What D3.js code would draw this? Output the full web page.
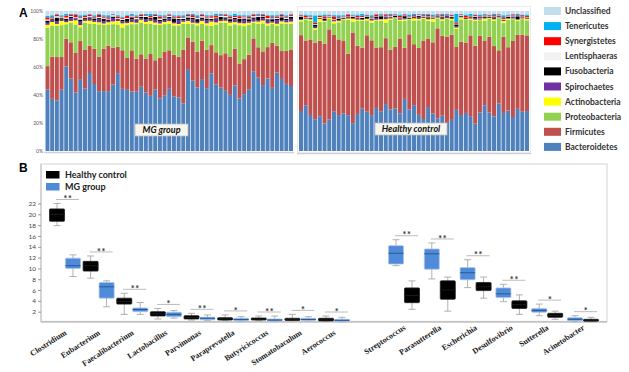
<!DOCTYPE html>
<html>
<head>
<meta charset="utf-8">
<script src="https://cdn.jsdelivr.net/npm/d3@7"></script>
<style>
  body { margin: 0; background: #fff; }
  svg { display: block; font-family: Lato, "Open Sans", sans-serif; }
</style>
</head>
<body>
<svg id="chart" width="629" height="372"></svg>
<script>
// ---------------- Panel A: phylum relative abundance per sample (%) ----------------
var phyla = ["Bacteroidetes", "Firmicutes", "Proteobacteria", "Actinobacteria", "Spirochaetes",
             "Fusobacteria", "Lentisphaeras", "Synergistetes", "Tenericutes", "Unclassified"];
var phylumColors = ["#4f81bd", "#c0504d", "#92d050", "#ffff00", "#7030a0",
                    "#000000", "#f2f2f2", "#ff0000", "#00b0f0", "#c3dfee"];
var pctTicks = [0, 0.2, 0.4, 0.6, 0.8, 1];

// MG group (53 samples)
var mgBacteroidetes = [43.6,37,36,43.6,60.7,52,42,51.4,44.8,56, 48,43,43,43,48,56,44.8,44,43,42.5,
                       46,42,39,44,38,40,45,39,38,33.6, 58,51,45.5,52,45.5,55.5,48,45.5,43,40,
                       47,38,41,43.6,57,53,47,52,45.5,56.7, 52,48,46.7];
var mgFirmicutes = [16.6,29.9,30.9,23.3,19.8,26.1,28.5,27.2,27.8,19.7, 25.3,24.9,30.3,32.7,26.5,19,27.8,22.9,29.6,23.7,
                    23.3,24.2,29.6,21,29.4,31,27.9,29.6,28.9,38.1, 23.2,28.3,25.5,27.8,27.8,20.2,23,23.1,26.8,27.4,
                    26.3,25.3,25.2,24.3,23.5,22,24,22.5,32.6,19.5, 20.1,23.7,25.9];
var mgProteobacteria = [27.3,22.1,22.1,22.6,10.5,13.9,20.5,9.9,19.4,15.8, 17.7,23.1,17.2,15.3,17,16,16.4,23.6,18.9,24.8,
                        22.7,24.8,21.4,25.5,23.6,20,19.1,20.9,22.1,18.3, 9.8,12.7,19,12.2,17.7,13.8,20,23.4,21.7,22.1,
                        17.7,27.7,23.8,21.1,11,17,20,15.5,13.4,14.3, 19.9,19.3,18.9];
var mgActinobacteria = [2,2.5,1.5,3,1.5,1.5,3,1.5,1.5,2, 1.5,1.5,1,1.5,2,2.5,3,1.5,1.5,1, 2,1.5,2,1.5,1,1.5,2,1.5,1,1.5,
                        2,1,1.5,2,1.5,3,1.5,1,1.5,2, 1.5,1.5,2,1.5,1,1.5,2,1.5,1,1.5, 1.5,1,1.5];
var mgSpirochaetes = [1.5,1,2,1,1,2,1,2.5,1,1.5, 1,2,1.5,1,2.5,1,1.5,1,2,1.5, 1,2,1,2,1.5,1,2,1,2.5,1,
                      1,2.5,1,1.5,2,1,2,1,1.5,1, 2,1,2.5,1,2,1,1.5,2,1,2.5, 1,1.5,2];
var mgFusobacteria = [1.5,1,2.5,1,1.5,1,0.5,1.5,1,1, 1.5,1,2,1,1,0.5,1,2,1.5,1, 1,1.5,1,2,1,1.5,1,2.5,1,1,
                      1.5,1,2,1,1.5,1,1,2,1,1.5, 1,2,1,1.5,1,2.5,1,1,1.5,1, 2,1,1.5];
var mgLentisphaeras = [0.8,0.5,1,0.6,0.8,0.5,0.7,1,0.6,0.8, 0.5,0.8,0.7,0.6,1,0.5,0.8,0.6,0.7,0.9, 0.6,0.8,0.5,0.7,1,0.6,0.8,0.5,0.7,0.6,
                       0.8,0.5,0.7,0.9,0.6,0.8,0.5,0.7,1,0.6, 0.7,0.5,0.8,0.6,0.9,0.7,0.5,0.8,0.6,0.7, 0.5,0.8,0.6];
var mgSynergistetes = [1.5,0.8,1.2,0.5,1.5,0.8,2,0.6,1,1.2, 0.6,1.5,0.8,1,0.5,1.2,0.8,1.5,0.6,1, 1.2,0.5,1,0.8,1.5,0.6,1,0.8,1.2,0.5,
                       1,1.5,0.6,1.2,0.8,1,1.5,0.5,1,1.2, 0.8,1.5,0.6,1,1.2,0.5,1,1.5,0.8,1, 1.2,0.6,1];
var mgTenericutes = [1,1.5,0.5,1,1.2,0.8,0.5,1.5,1,0.5, 1.2,0.8,1,1.5,0.5,1,0.8,0.6,1.2,1, 0.5,1,1.5,0.8,1,1.2,0.5,1,0.8,1.5,
                     0.8,1,1.5,0.6,1,0.8,1.2,1,0.5,1, 1.5,0.8,1,1.2,0.5,1,0.8,0.6,1.5,1, 0.8,1.2,0.5];
var mgUnclassified = [3.5,3,2,3,2,2,2,3,2.5,2, 3,2,3,3,2,3,4,3,2,3, 2,2,2,2,3,3,2,3,3,3,
                      2,2,3,2,3,3,2,2,2,3, 2,3,3,3,2,2,2,3,3,3, 2,3,2];

// Healthy control (49 samples)
var hcBacteroidetes = [29,33,26,22,25,20,22.6,29,25.7,27, 25.7,20,27,30.5,28,25.7,31,29,34,29.8,
                       30.5,27,37.6,29.8,33,25.7,23,31.7,27,23, 25.7,20,22.6,29,25.7,27,25,20,27.4,33,
                       27,25,34,27.4,29,24.5,30.5,28,29];
var hcFirmicutes = [55,46.8,54.5,53,54.3,58.1,65,55.5,54.1,51.8, 44.1,65.2,49.9,44,54.4,53.6,43.5,46.7,47.7,42.8,
                    44,53.5,36.9,53.8,43.9,47.6,56.3,49.5,51.1,63.9, 58.3,61.2,61.9,44.3,52.4,49.9,57.9,56.9,54.7,46.3,
                    53.5,50.7,38,54.7,45.5,54.8,53.5,54.9,55];
var hcProteobacteria = [10,15.2,13.5,9,13.7,15.9,7.4,8.5,12.2,15.2, 24.2,7.8,18.1,19.5,10.6,12.7,19.5,19.3,11.3,21.4,
                        20.5,12.5,19.5,10.4,17.1,19.7,15.7,12.8,14.9,7.1, 11,12.8,10.5,12.7,15.9,16.1,11.1,18.1,10.9,14.7,
                        12.5,18.3,23,9.9,19.5,15.7,10,11.1,11];
var hcActinobacteria = [1,0.5,1,1,2,0.5,1,1.5,1,0.5, 1,2,1,0.5,1,1.5,0.5,1,2.5,1, 0.5,1,1,0.5,1.5,1,0.5,1,2,0.5,
                        1,0.5,1,1,1.5,0.5,1,1,0.5,1.5, 0.5,1,0.5,1.5,1,0.5,1,0.5,1];
var hcSpirochaetes = [0.5,0.3,0.5,1,0.3,0.5,0.3,0.8,0.5,0.3, 0.5,0.3,1,0.5,0.3,0.5,1,0.3,1.5,0.5, 0.3,0.5,0.8,0.3,0.5,1,0.3,0.5,0.3,0.5,
                      0.5,1,0.3,0.8,0.5,0.3,0.5,1,0.3,0.5, 0.3,0.5,0.8,0.5,0.3,1,0.5,0.3,0.5];
var hcFusobacteria = [2,0.5,0.5,1.5,0.5,1,0.5,0.5,1,0.5, 0.5,1,0.5,1,1.5,0.5,1,2,0.5,0.5, 1,0.5,1.5,0.5,0.5,1,0.5,1,0.5,0.5,
                      1,0.5,1,1.5,0.5,0.5,0.5,1,0.5,1, 0.5,1,0.5,0.5,1,0.5,2,0.5,0.5];
var hcLentisphaeras = [0.5,0.3,0.5,0.4,0.6,0.3,0.5,0.4,0.3,0.5, 0.4,0.5,0.3,0.6,0.4,0.5,0.3,0.5,0.4,0.6, 0.3,0.5,0.4,0.5,0.3,0.6,0.4,0.5,0.3,0.4,
                       0.5,0.3,0.6,0.4,0.5,0.3,0.4,0.5,0.3,0.6, 0.4,0.5,0.3,0.5,0.4,0.6,0.3,0.5,0.4];
var hcSynergistetes = [0.5,1,0.5,1,0.8,1.5,0.5,1.8,0.8,0.5, 1.5,0.5,1,0.8,0.5,0.8,1.5,0.5,1,0.8, 0.5,1.2,0.8,0.5,1,0.5,0.8,1.2,0.5,0.8,
                       1,0.5,0.8,1,0.5,1.2,0.5,0.8,1,0.5, 0.8,1,0.5,1.2,0.5,0.8,0.5,1,0.8];
var hcTenericutes = [0.5,1,1,5,0.5,1.5,0.5,1,1.5,1, 0.5,0.8,1,1.5,0.5,1.5,0.5,0.8,0.5,1, 0.5,1,0.5,1.5,1,0.5,1,0.8,1.5,0.5,
                     1,0.8,0.5,6,0.5,1,1.5,0.5,1.5,0.8, 0.5,1,0.5,1.5,0.8,0.5,1,0.5,1];
var hcUnclassified = [2.5,2.5,3,3,3,2.5,2.5,3,3,3, 2,2.5,2.5,2,2.5,3,2,2,2,2, 2,2.5,2,2.5,2,2,2,2,2.5,2,
                      2,2,2.5,2,2,2.5,2,2.5,2.5,2, 2.5,2,2,3,2.5,2,2,2.5,2.5];

// ---------------- Panel B: differential genera (box plot stats: min, q1, median, q3, max) ----------------
var leftGenera = ["Clostridium", "Eubacterium", "Faecalibacterium", "Lactobacillus", "Parvimonas",
                  "Paraprevotella", "Butyricicoccus", "Stomatobaculum", "Aerococcus"];
var rightGenera = ["Streptococcus", "Parasutterella", "Escherichia", "Desulfovibrio", "Sutterella", "Acinetobacter"];
var hcStats = [[17.9,18.7,20,21,22], [8.2,9.5,10.5,11.3,12.3], [1.5,3.4,3.9,4.5,5.4], [0.65,1.2,1.6,2.0,2.6],
               [0.45,0.65,0.9,1.26,1.7], [0.35,0.46,0.7,0.9,1.4], [0.35,0.46,0.6,0.83,1.2], [0.3,0.37,0.55,0.78,1.5],
               [0.2,0.3,0.5,0.78,1.2],
               [2.44,3.67,5,6.4,7.7], [2.1,4.3,6,7.7,8.4], [4.5,5.9,6.6,7.4,8.4], [1.5,2.6,3.3,4.0,5.1],
               [0.6,0.96,1.3,1.7,2.1], [0.15,0.25,0.4,0.59,0.96]];
var mgStats = [[8.5,10.0,10.5,11.9,12.5], [2.9,4.5,6.6,7.4,7.7], [1.5,2.0,2.4,2.7,3.7], [0.8,1.07,1.5,1.9,2.2],
               [0.4,0.5,0.8,0.96,1.4], [0.25,0.33,0.55,0.78,1.07], [0.2,0.28,0.45,0.65,1.2], [0.3,0.37,0.55,0.78,1.07],
               [0.15,0.25,0.4,0.59,0.96],
               [10.5,10.8,12.8,14.2,15.3], [8.05,9.85,12.7,13.6,14.7], [6.45,7.9,9.2,10.15,11.6], [3.85,4.6,5.3,6.4,7.07],
               [1.26,1.9,2.2,2.6,3.4], [0.15,0.33,0.6,0.9,1.26]];
var significance = ["**","**","**","*","**","*","**","*","*", "**","**","**","**","*","*"];
var countTicks = [2,4,6,8,10,12,14,16,18,20,22];

var svg = d3.select("#chart");

// ================= Panel A =================
var yA = d3.scaleLinear().domain([0, 1]).range([151, 11]);
var xMG = d3.scaleBand().domain(d3.range(mgBacteroidetes.length)).range([45.5, 293]).paddingInner(0.15);
var xHC = d3.scaleBand().domain(d3.range(hcBacteroidetes.length)).range([299, 529]).paddingInner(0.15);

// turn the per-phylum arrays into one row per sample
function buildRows(cols) {
    return cols[0].map(function(v, i) {
        var row = {};
        phyla.forEach(function(p, k) { row[p] = cols[k][i]; });
        return row;
    });
}
var mgRows = buildRows([mgBacteroidetes, mgFirmicutes, mgProteobacteria, mgActinobacteria, mgSpirochaetes,
                        mgFusobacteria, mgLentisphaeras, mgSynergistetes, mgTenericutes, mgUnclassified]);
var hcRows = buildRows([hcBacteroidetes, hcFirmicutes, hcProteobacteria, hcActinobacteria, hcSpirochaetes,
                        hcFusobacteria, hcLentisphaeras, hcSynergistetes, hcTenericutes, hcUnclassified]);

var stack = d3.stack().keys(phyla).offset(d3.stackOffsetExpand);

// faint frame around the healthy control block
svg.append("rect")
    .attr("x", 297.5).attr("y", 6.5).attr("width", 233).attr("height", 146.5)
    .attr("fill", "none").attr("stroke", "#ececec");

function drawStack(rows, x) {
    var layers = svg.append("g").selectAll("g")
        .data(stack(rows))
        .enter().append("g")
        .attr("fill", function(d, i) { return phylumColors[i]; });
    layers.selectAll("rect")
        .data(function(d) { return d; })
        .enter().append("rect")
        .attr("x", function(d, i) { return x(i); })
        .attr("y", function(d) { return yA(d[1]); })
        .attr("width", x.bandwidth())
        .attr("height", function(d) { return yA(d[0]) - yA(d[1]); });
}
drawStack(mgRows, xMG);
drawStack(hcRows, xHC);

// baseline under both blocks
svg.append("line").attr("x1", 44).attr("x2", 294).attr("y1", 152.5).attr("y2", 152.5)
    .attr("stroke", "#cfcfcf").attr("stroke-width", 1.5);
svg.append("line").attr("x1", 297).attr("x2", 531).attr("y1", 153.5).attr("y2", 153.5)
    .attr("stroke", "#cfcfcf").attr("stroke-width", 1.5);

// percent axis
var gyA = svg.append("g").attr("transform", "translate(44,0)")
    .call(d3.axisLeft(yA).tickValues(pctTicks).tickFormat(d3.format(".0%")).tickSize(0).tickPadding(1));
gyA.select(".domain").remove();
gyA.selectAll("text").attr("font-size", 5).attr("fill", "#555").attr("font-family", "Lato, sans-serif");

// group captions
function caption(cx, cy, w, label) {
    svg.append("rect").attr("x", cx - w / 2).attr("y", cy - 6).attr("width", w).attr("height", 12)
        .attr("fill", "#f6f5ee").attr("stroke", "#bdbdbd").attr("stroke-width", 0.8);
    svg.append("text").attr("x", cx).attr("y", cy + 3.2).attr("text-anchor", "middle")
        .attr("font-size", 9).attr("font-weight", "bold").attr("font-style", "italic").attr("fill", "#111")
        .text(label);
}
caption(161.5, 130, 53, "MG group");
caption(411, 129, 72, "Healthy control");

// phylum legend (top entry = last stack layer)
var legA = svg.append("g").selectAll("g")
    .data(phyla.slice().reverse())
    .enter().append("g")
    .attr("transform", function(d, i) { return "translate(544," + (7 + i * 15.1) + ")"; });
legA.append("rect").attr("width", 17).attr("height", 8)
    .attr("fill", function(d) { return phylumColors[phyla.indexOf(d)]; });
legA.append("text").attr("x", 21).attr("y", 7)
    .attr("font-size", 8.5).attr("font-weight", "bold").attr("fill", "#333")
    .text(function(d) { return d; });

svg.append("text").attr("x", 19).attr("y", 17).attr("font-size", 12).attr("font-weight", "bold")
    .attr("font-family", "Liberation Sans, Arial, sans-serif").text("A");

// ================= Panel B =================
var yB = d3.scaleLinear().domain([0, 29.3]).range([322.5, 164]);
var xLeft = d3.scalePoint().domain(leftGenera).range([65, 334]);
var xRight = d3.scalePoint().domain(rightGenera).range([404, 583]);
var subLeft = d3.scaleBand().domain(["HC", "MG"]).range([-15.5, 15.5]).paddingInner(0.06);
var subRight = d3.scaleBand().domain(["MG", "HC"]).range([-15.5, 15.5]).paddingInner(0.06);
var genera = leftGenera.concat(rightGenera);

function centerOf(name) {
    return leftGenera.indexOf(name) >= 0 ? xLeft(name) : xRight(name);
}
function subOf(name) {
    return leftGenera.indexOf(name) >= 0 ? subLeft : subRight;
}

// frame
svg.append("rect").attr("x", 41).attr("y", 164).attr("width", 566).attr("height", 157.5)
    .attr("fill", "none").attr("stroke", "#e2e2e2").attr("stroke-width", 1.5);
svg.append("line").attr("x1", 41).attr("x2", 41).attr("y1", 164).attr("y2", 322)
    .attr("stroke", "#c8c8c8").attr("stroke-width", 1.2);
svg.append("line").attr("x1", 41).attr("x2", 607).attr("y1", 321.8).attr("y2", 321.8)
    .attr("stroke", "#c4c4c4").attr("stroke-width", 1.8);

var gyB = svg.append("g").attr("transform", "translate(41,0)")
    .call(d3.axisLeft(yB).tickValues(countTicks).tickSize(3).tickPadding(2));
gyB.select(".domain").remove();
gyB.selectAll("line").attr("stroke", "#999");
gyB.selectAll("text").attr("font-size", 6.5).attr("fill", "#444").attr("font-family", "Lato, sans-serif");

// boxes
var boxes = [];
genera.forEach(function(g, i) {
    boxes.push({ genus: g, group: "HC", s: hcStats[i] });
    boxes.push({ genus: g, group: "MG", s: mgStats[i] });
});
var bg = svg.append("g").selectAll("g")
    .data(boxes)
    .enter().append("g")
    .attr("transform", function(d) {
        var sub = subOf(d.genus);
        return "translate(" + (centerOf(d.genus) + sub(d.group)) + ",0)";
    });
var bw = subLeft.bandwidth();

bg.append("line")
    .attr("x1", bw / 2).attr("x2", bw / 2)
    .attr("y1", function(d) { return yB(d.s[0]); })
    .attr("y2", function(d) { return yB(d.s[4]); })
    .attr("stroke", "#a8a8a8").attr("stroke-width", 0.9);
bg.selectAll(".cap")
    .data(function(d) { return [d.s[0], d.s[4]]; })
    .enter().append("line").attr("class", "cap")
    .attr("x1", bw / 2 - 3.5).attr("x2", bw / 2 + 3.5)
    .attr("y1", function(v) { return yB(v); })
    .attr("y2", function(v) { return yB(v); })
    .attr("stroke", "#a8a8a8").attr("stroke-width", 0.9);
bg.append("rect")
    .attr("x", 0).attr("width", bw)
    .attr("y", function(d) { return yB(d.s[3]); })
    .attr("height", function(d) { return yB(d.s[1]) - yB(d.s[3]); })
    .attr("rx", 0.8)
    .attr("fill", function(d) { return d.group === "HC" ? "#000" : "#4f8bd8"; })
    .attr("stroke", function(d) { return d.group === "HC" ? "#222" : "#a9c5ec"; })
    .attr("stroke-width", 0.8);
bg.append("line")
    .attr("x1", 0).attr("x2", bw)
    .attr("y1", function(d) { return yB(d.s[2]); })
    .attr("y2", function(d) { return yB(d.s[2]); })
    .attr("stroke", function(d) { return d.group === "HC" ? "#1a1a1a" : "#2b5a94"; })
    .attr("stroke-width", 1);

// significance bars
var sig = svg.append("g").selectAll("g")
    .data(genera)
    .enter().append("g")
    .attr("transform", function(g, i) {
        var top = Math.max(hcStats[i][4], mgStats[i][4]);
        return "translate(" + centerOf(g) + "," + (yB(top) - 4) + ")";
    });
sig.append("line").attr("x1", -9).attr("x2", 14).attr("stroke", "#bcbcbc").attr("stroke-width", 1);
sig.append("text").attr("x", 3).attr("y", 2.6).attr("text-anchor", "middle")
    .attr("font-size", 9).attr("font-weight", "bold").attr("fill", "#333")
    .attr("letter-spacing", 0.8)
    .text(function(g, i) { return significance[i]; });

// genus labels
svg.append("g").selectAll("text")
    .data(genera)
    .enter().append("text")
    .attr("transform", function(g) {
        var left = leftGenera.indexOf(g) >= 0;
        return "translate(" + (centerOf(g) + 2) + "," + (left ? 334 : 329) + ") rotate(-33)";
    })
    .attr("text-anchor", "end")
    .attr("font-family", "Liberation Serif, Times New Roman, serif")
    .attr("font-size", 8).attr("font-weight", "bold").attr("fill", "#1a1a1a")
    .text(function(g) { return g; });

// group legend
var legB = svg.append("g").selectAll("g")
    .data([["Healthy control", "#000"], ["MG group", "#4f8bd8"]])
    .enter().append("g")
    .attr("transform", function(d, i) { return "translate(46," + (171 + i * 12) + ")"; });
legB.append("rect").attr("width", 13.5).attr("height", 7.5).attr("fill", function(d) { return d[1]; });
legB.append("text").attr("x", 19).attr("y", 7).attr("font-size", 9).attr("font-weight", "bold").attr("fill", "#222")
    .text(function(d) { return d[0]; });

svg.append("text").attr("x", 19).attr("y", 172).attr("font-size", 12).attr("font-weight", "bold")
    .attr("font-family", "Liberation Sans, Arial, sans-serif").text("B");
</script>
</body>
</html>
